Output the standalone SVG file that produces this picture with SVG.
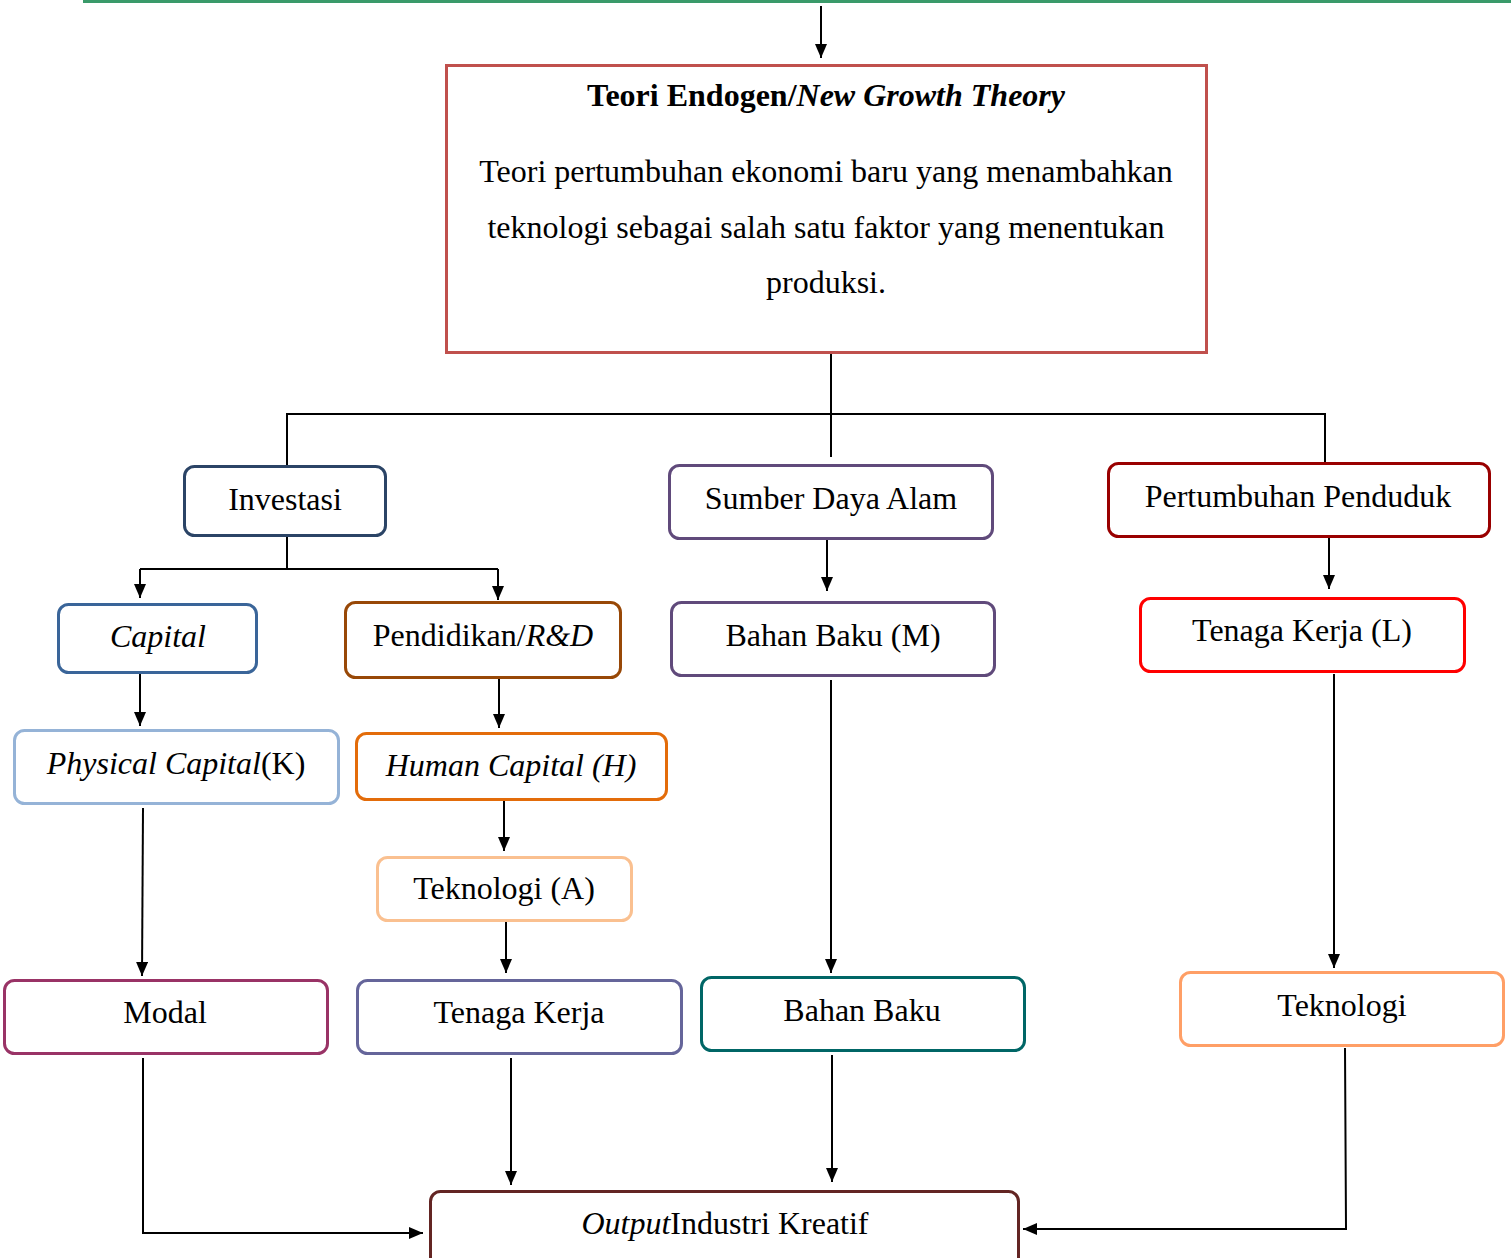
<svg xmlns="http://www.w3.org/2000/svg" width="1511" height="1258" viewBox="0 0 1511 1258">
<defs>
<marker id="ah" markerUnits="userSpaceOnUse" markerWidth="14" markerHeight="12" refX="14" refY="6" orient="auto">
<path d="M0,0 L14,6 L0,12 z" fill="#000"/>
</marker>
<style>
.box{fill:#fff;stroke-width:3}
.lbl{font-family:"Liberation Serif","Times New Roman",serif;font-size:32px;fill:#000;text-anchor:middle}
.it{font-style:italic}
.bd{font-weight:bold}
.c{fill:none;stroke:#000;stroke-width:2}
.a{fill:none;stroke:#000;stroke-width:2;marker-end:url(#ah)}
</style>
</defs>
<rect width="1511" height="1258" fill="#fff"/>
<line x1="83" y1="1.5" x2="1511" y2="1.5" stroke="#3a9a6a" stroke-width="3"/>

<g id="connectors">
<line class="a" x1="821" y1="6" x2="821" y2="58"/>
<polyline class="c" points="831,353 831,457"/>
<polyline class="c" points="287,466 287,414 1325,414 1325,463"/>
<polyline class="c" points="287,536 287,569"/>
<polyline class="c" points="140,569 498,569"/>
<line class="a" x1="140" y1="569" x2="140" y2="598"/>
<line class="a" x1="498" y1="569" x2="498" y2="600"/>
<line class="a" x1="140" y1="673" x2="140" y2="726"/>
<line class="a" x1="499" y1="678" x2="499" y2="728"/>
<line class="a" x1="504" y1="800" x2="504" y2="851"/>
<line class="a" x1="506" y1="921" x2="506" y2="973"/>
<line class="a" x1="143" y1="808" x2="142" y2="976"/>
<line class="a" x1="827" y1="539" x2="827" y2="591"/>
<line class="a" x1="831" y1="680" x2="831" y2="973"/>
<line class="a" x1="1329" y1="537" x2="1329" y2="589"/>
<line class="a" x1="1334" y1="674" x2="1334" y2="968"/>
<polyline class="a" points="143,1058 143,1233 423,1233"/>
<line class="a" x1="511" y1="1058" x2="511" y2="1185"/>
<line class="a" x1="832" y1="1055" x2="832" y2="1182"/>
<polyline class="a" points="1345,1048 1346,1229 1023,1229"/>
</g>

<g id="teori">
<rect x="446.5" y="65.5" width="760" height="287" fill="#fff" stroke="#c0504d" stroke-width="3"/>
<text class="lbl bd" x="826" y="106">Teori Endogen/<tspan class="it">New Growth Theory</tspan></text>
<text class="lbl" x="826" y="182">Teori pertumbuhan ekonomi baru yang menambahkan</text>
<text class="lbl" x="826" y="238">teknologi sebagai salah satu faktor yang menentukan</text>
<text class="lbl" x="826" y="293">produksi.</text>
</g>

<g id="investasi">
<rect class="box" x="184.5" y="466.5" width="201" height="69" rx="10" stroke="#2b4466"/>
<text class="lbl" x="285" y="510">Investasi</text>
</g>
<g id="sda">
<rect class="box" x="669.5" y="465.5" width="323" height="73" rx="10" stroke="#604a7b"/>
<text class="lbl" x="831" y="509">Sumber Daya Alam</text>
</g>
<g id="pertumbuhan">
<rect class="box" x="1108.5" y="463.5" width="381" height="73" rx="10" stroke="#990000"/>
<text class="lbl" x="1298" y="507">Pertumbuhan Penduduk</text>
</g>

<g id="capital">
<rect class="box" x="58.5" y="604.5" width="198" height="68" rx="10" stroke="#3a6599"/>
<text class="lbl it" x="158" y="647">Capital</text>
</g>
<g id="pendidikan">
<rect class="box" x="345.5" y="602.5" width="275" height="75" rx="10" stroke="#984807"/>
<text class="lbl" x="483" y="646">Pendidikan/<tspan class="it">R&amp;D</tspan></text>
</g>
<g id="bahanbakum">
<rect class="box" x="671.5" y="602.5" width="323" height="73" rx="10" stroke="#604a7b"/>
<text class="lbl" x="833" y="646">Bahan Baku (M)</text>
</g>
<g id="tenagakerjal">
<rect class="box" x="1140.5" y="598.5" width="324" height="73" rx="10" stroke="#ff0000"/>
<text class="lbl" x="1302" y="641">Tenaga Kerja (L)</text>
</g>

<g id="physical">
<rect class="box" x="14.5" y="730.5" width="324" height="73" rx="10" stroke="#95b3d7"/>
<text class="lbl" x="176" y="774"><tspan class="it">Physical Capital</tspan>(K)</text>
</g>
<g id="human">
<rect class="box" x="356.5" y="733.5" width="310" height="66" rx="10" stroke="#e36c0a"/>
<text class="lbl it" x="511" y="776">Human Capital (H)</text>
</g>
<g id="teknologia">
<rect class="box" x="377.5" y="857.5" width="254" height="63" rx="10" stroke="#fac090"/>
<text class="lbl" x="504" y="899">Teknologi (A)</text>
</g>

<g id="modal">
<rect class="box" x="4.5" y="980.5" width="323" height="73" rx="10" stroke="#993366"/>
<text class="lbl" x="165" y="1023">Modal</text>
</g>
<g id="tenagakerja">
<rect class="box" x="357.5" y="980.5" width="324" height="73" rx="10" stroke="#65659a"/>
<text class="lbl" x="519" y="1023">Tenaga Kerja</text>
</g>
<g id="bahanbaku">
<rect class="box" x="701.5" y="977.5" width="323" height="73" rx="10" stroke="#006666"/>
<text class="lbl" x="862" y="1021">Bahan Baku</text>
</g>
<g id="teknologi">
<rect class="box" x="1180.5" y="972.5" width="323" height="73" rx="10" stroke="#ff9f66"/>
<text class="lbl" x="1342" y="1016">Teknologi</text>
</g>

<g id="output">
<rect class="box" x="430.5" y="1191.5" width="588" height="80" rx="10" stroke="#632523"/>
<text class="lbl" x="725" y="1234"><tspan class="it">Output</tspan>Industri Kreatif</text>
</g>
</svg>
